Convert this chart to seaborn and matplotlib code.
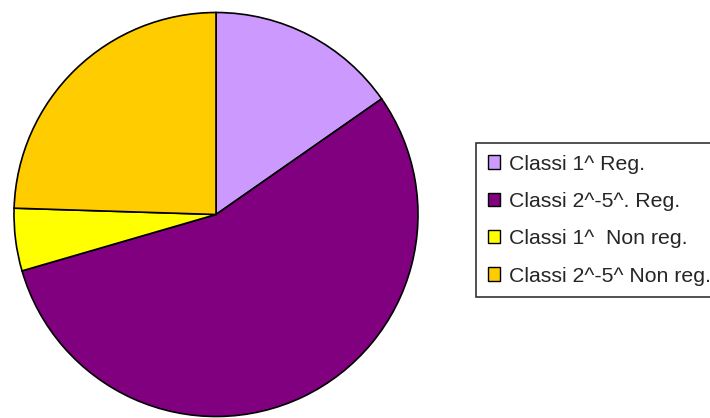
import matplotlib
matplotlib.use("Agg")
import matplotlib.pyplot as plt
import seaborn as sns

categories = ["Classi 1^ Reg.", "Classi 2^-5^. Reg.", "Classi 1^  Non reg.", "Classi 2^-5^ Non reg."]
values = [15.3, 55.2, 5.0, 24.5]
colors = ["#CC99FF", "#800080", "#FFFF00", "#FFCC00"]

sns.set_theme(style="white")
plt.rcParams['font.family'] = ['Liberation Sans', 'DejaVu Sans']

W, H = 710, 418
fig = plt.figure(figsize=(W / 100, H / 100), dpi=100)
fig.patch.set_facecolor("white")

cx, cy, r = 216, 214.5, 202
ax = fig.add_axes([(cx - r) / W, (H - cy - r) / H, 2 * r / W, 2 * r / H])
wedges, _ = ax.pie(values, colors=colors, startangle=90, counterclock=False,
                   radius=1, wedgeprops=dict(edgecolor="black", linewidth=1.2))
ax.set_xlim(-1, 1)
ax.set_ylim(-1, 1)
ax.set_aspect("equal")
ax.axis("off")
for w in wedges:
    w.set_clip_on(False)

leg = fig.legend(wedges, categories, loc="upper left",
                 bbox_to_anchor=(476 / W, 1 - 143 / H), bbox_transform=fig.transFigure,
                 fontsize=15.3, frameon=True, fancybox=False, shadow=False,
                 handlelength=0.6, handleheight=0.6, handletextpad=0.38,
                 labelspacing=0.86, borderpad=0.55, borderaxespad=0)
frame = leg.get_frame()
frame.set_edgecolor("black")
frame.set_linewidth(1.2)
frame.set_facecolor("white")
for h in leg.legend_handles:
    h.set_edgecolor("black")
    h.set_linewidth(1.0)

fig.savefig("out.png", dpi=100)
